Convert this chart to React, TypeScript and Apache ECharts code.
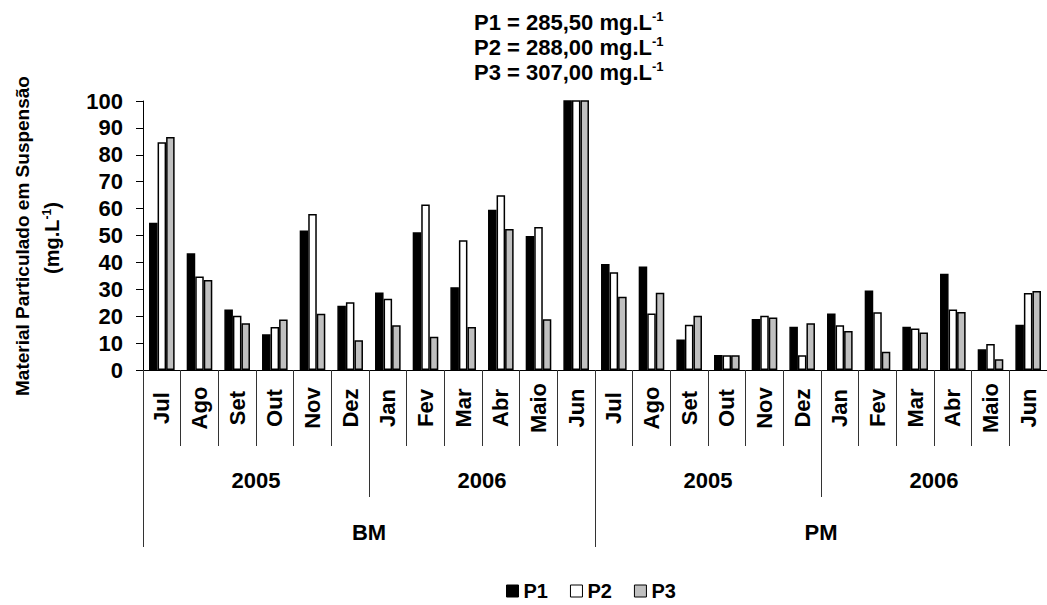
import React, { useEffect, useRef } from "react";
import * as echarts from "echarts";

const months = ["Jul", "Ago", "Set", "Out", "Nov", "Dez", "Jan", "Fev", "Mar", "Abr", "Maio", "Jun"];
const categories = [...months, ...months];
const years = ["2005", "2006", "2005", "2006"];
const groups = ["BM", "PM"];
const seriesNames = ["P1", "P2", "P3"];

const p1 = [54.7, 43.4, 22.5, 13.3, 51.9, 23.9, 28.8, 51.2, 30.8, 59.6, 49.8, 285.5,
  39.4, 38.5, 11.3, 5.6, 19.0, 16.1, 21.0, 29.6, 16.1, 35.8, 7.7, 16.8];
const p2 = [84.7, 34.8, 20.2, 16.0, 58.0, 25.2, 26.5, 61.5, 48.2, 65.0, 53.2, 288.0,
  36.3, 21.0, 16.8, 5.5, 20.2, 5.5, 16.6, 21.5, 15.4, 22.5, 9.7, 28.6];
const p3 = [86.6, 33.5, 17.4, 18.8, 20.9, 11.1, 16.6, 12.4, 16.0, 52.4, 18.9, 307.0,
  27.2, 28.7, 20.2, 5.5, 19.5, 17.4, 14.5, 6.8, 13.9, 21.6, 4.0, 29.4];
const seriesValues = [p1, p2, p3];
const colors = ["#000000", "#ffffff", "#c0c0c0"];

const yTitle1 = "Material Particulado em Suspensão";
const yTitle2 = "(mg.L";
const FONT = "Liberation Sans, Arial, sans-serif";

export default function App() {
  const ref = useRef<HTMLDivElement>(null);
  useEffect(() => {
    if (!ref.current) return;
    const chart = echarts.init(ref.current, undefined, { renderer: "svg" });
    const bold = { fontFamily: FONT, fontWeight: "bold" as const, color: "#000" };
    const rich = {
      b: { ...bold, fontSize: 22, lineHeight: 24 },
      sup: { ...bold, fontSize: 13, lineHeight: 13, verticalAlign: "top" as const },
    };
    const richTitle = {
      b: { ...bold, fontSize: 20, lineHeight: 22 },
      sup: { ...bold, fontSize: 12, lineHeight: 12, verticalAlign: "top" as const },
    };
    const junIdx = 11;
    const annotation = seriesNames.map((n, i) => ({
      type: "text",
      left: 474,
      top: 10 + i * 25,
      style: {
        text: `{b|${n} = ${seriesValues[i][junIdx].toFixed(2).replace(".", ",")} mg.L}{sup|-1}`,
        rich,
      },
    }));
    const tickStyle = { color: "#333", width: 1 };
    chart.setOption({
      animation: false,
      grid: { left: 143, top: 101, width: 912, height: 269, containLabel: false },
      legend: {
        data: seriesNames,
        left: 506,
        top: 581,
        icon: "rect",
        itemWidth: 12,
        itemHeight: 12,
        itemGap: 22,
        padding: 0,
        textStyle: { ...bold, fontSize: 20 },
        itemStyle: { borderColor: "#000", borderWidth: 1 },
      },
      xAxis: [
        {
          type: "category",
          data: categories,
          position: "bottom",
          axisLine: { show: true, lineStyle: { color: "#000", width: 1 } },
          axisTick: { show: true, length: 76, lineStyle: tickStyle, interval: 0 },
          axisLabel: {
            interval: 0,
            rotate: 90,
            align: "center",
            verticalAlign: "middle",
            margin: 38,
            ...bold,
            fontSize: 22,
          },
        },
        {
          type: "category",
          data: years,
          position: "bottom",
          axisLine: { show: false },
          axisTick: { show: true, length: 127, lineStyle: tickStyle, interval: 0 },
          axisLabel: { interval: 0, margin: 110, verticalAlign: "middle", ...bold, fontSize: 22 },
        },
        {
          type: "category",
          data: groups,
          position: "bottom",
          axisLine: { show: false },
          axisTick: { show: true, length: 177, lineStyle: tickStyle, interval: 0 },
          axisLabel: { interval: 0, margin: 162, verticalAlign: "middle", ...bold, fontSize: 22 },
        },
      ],
      yAxis: {
        type: "value",
        min: 0,
        max: 100,
        interval: 10,
        axisLine: { show: true, lineStyle: { color: "#000" } },
        axisTick: { show: true, length: 7, lineStyle: { color: "#000" } },
        splitLine: { show: false },
        axisLabel: { margin: 20, ...bold, fontSize: 22 },
      },
      series: seriesNames.map((n, i) => ({
        name: n,
        type: "bar",
        data: seriesValues[i],
        clip: true,
        barGap: "0%",
        barCategoryGap: "32%",
        itemStyle: { color: colors[i], borderColor: "#000", borderWidth: 1.5 },
      })),
      graphic: [
        ...annotation,
        {
          type: "text",
          x: 22,
          y: 236,
          rotation: Math.PI / 2,
          style: {
            text: yTitle1,
            fill: "#000",
            font: `bold 19px ${FONT}`,
            align: "center",
            verticalAlign: "middle",
          },
        },
        {
          type: "text",
          x: 52,
          y: 238,
          rotation: Math.PI / 2,
          style: {
            text: `{b|${yTitle2}}{sup|-1}{b|)}`,
            rich: richTitle,
            align: "center",
            verticalAlign: "middle",
          },
        },
      ],
    });
    return () => chart.dispose();
  }, []);
  return (
    <div
      ref={ref}
      style={{ position: "absolute", left: 0, top: 0, width: 1047, height: 605, background: "#fff" }}
    />
  );
}
